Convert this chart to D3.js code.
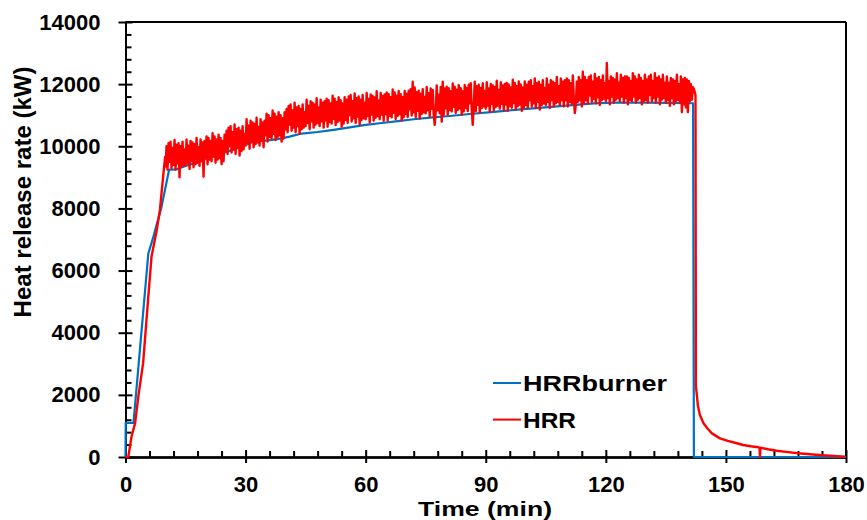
<!DOCTYPE html>
<html>
<head>
<meta charset="utf-8">
<script src="https://cdn.jsdelivr.net/npm/d3@7"></script>
<style>
  body { margin: 0; background: #fff; }
  svg text { font-family: "Liberation Sans", Arial, sans-serif; font-weight: bold; fill: #000; }
</style>
</head>
<body>
<div id="canvas"></div>
<script>
"use strict";

/* === Data === */
// HRRburner: [time (min), kW]
let burnerTime = [0, 0.05, 2.0, 5.7, 7.0, 9.0, 10.9, 12.8, 15, 17, 20, 24, 27, 29, 32, 36, 38, 41, 44, 48, 52, 56, 60, 64, 68.6, 72, 76, 81, 86, 92, 98, 104.8, 110, 117, 122, 130, 136, 141.8, 142.0, 180];
let burnerHRR = [0, 1100, 1100, 6550, 7100, 8050, 9250, 9260, 9370, 9450, 9600, 9770, 9900, 9990, 10150, 10200, 10230, 10310, 10410, 10460, 10530, 10610, 10690, 10750, 10820, 10870, 10920, 10975, 11040, 11110, 11180, 11255, 11310, 11380, 11405, 11405, 11400, 11385, 0, 0];

// HRR growth phase
let riseTime = [0, 0.7, 1.5, 2.4, 3.2, 4.4, 5.7, 6.5, 7.8, 8.6, 9.4, 9.9];
let riseHRR = [0, 0, 650, 1090, 1940, 3020, 5160, 6450, 7300, 7950, 9020, 9660];

// HRR fluctuating phase, read every 0.25 min from t = 10 to 141.75 (one row = 5 min)
let bandStart = 10;
let bandStep = 0.25;
let bandHRR = [
  9350, 10000, 9250, 10100, 9500, 10150, 9300, 9950, 9400, 10200, 9250, 10050, 9450, 10100, 9000, 10000, 9350, 10150, 9400, 9900,
  9370, 10220, 9470, 10020, 9270, 10170, 9520, 10120, 9320, 10070, 9420, 10270, 9470, 9970, 9370, 10220, 9520, 10120, 9020, 10170,
  9620, 10320, 9420, 10270, 9570, 10170, 9520, 10420, 9670, 10320, 9470, 10220, 9570, 10370, 9620, 10270, 9420, 10170, 9520, 10370,
  9850, 10500, 9750, 10600, 10000, 10650, 9800, 10450, 9900, 10700, 9750, 10550, 9950, 10600, 9700, 10500, 9850, 10650, 9900, 10400,
  10020, 10870, 10120, 10670, 9920, 10820, 10170, 10770, 9970, 10720, 10070, 10920, 10120, 10620, 10020, 10870, 10170, 10770, 9970, 10820,
  10350, 11050, 10150, 11000, 10300, 10900, 10250, 11150, 10400, 11050, 10200, 10950, 10300, 11100, 10350, 11000, 10150, 10900, 10250, 11100,
  10550, 11200, 10450, 11300, 10700, 11350, 10500, 11150, 10600, 11400, 10450, 11250, 10650, 11300, 10400, 11200, 10550, 11350, 10600, 11100,
  10650, 11500, 10750, 11300, 10550, 11450, 10800, 11400, 10600, 11350, 10700, 11550, 10750, 11250, 10650, 11500, 10800, 11400, 10600, 11450,
  10830, 11530, 10630, 11480, 10780, 11380, 10730, 11630, 10880, 11530, 10680, 11430, 10780, 11580, 10830, 11480, 10630, 11380, 10730, 11580,
  10850, 11500, 10750, 11600, 11000, 11650, 10800, 11450, 10900, 11700, 10750, 11550, 10950, 11600, 10700, 11500, 10850, 11650, 10900, 11400,
  10870, 11720, 10970, 11520, 10770, 11670, 11020, 11620, 10820, 11570, 10920, 11770, 10970, 11470, 10870, 11720, 11020, 11620, 10820, 11670,
  11030, 11730, 10830, 11680, 10980, 11580, 10930, 11830, 11080, 11730, 10880, 11630, 10980, 11780, 11030, 11680, 10830, 11580, 10930, 11780,
  11040, 11690, 10940, 11790, 11190, 11840, 10990, 12080, 11090, 11890, 10940, 11740, 11140, 11790, 10890, 11690, 11040, 11840, 11090, 11590,
  11060, 11910, 11160, 11710, 10960, 11860, 11210, 11810, 11010, 10690, 11110, 11960, 11160, 11660, 11060, 11910, 10790, 12080, 11010, 11860,
  11220, 11920, 11020, 11870, 11170, 11770, 11120, 12020, 11270, 11920, 11070, 11820, 11170, 11970, 11220, 11870, 11020, 11770, 11120, 11970,
  11230, 11880, 11130, 11980, 11380, 12030, 11180, 10690, 11280, 12080, 11130, 11930, 11330, 11980, 11080, 11880, 11230, 12030, 11280, 11780,
  11210, 12060, 11310, 11860, 11110, 12010, 11360, 11960, 11160, 11910, 11260, 12110, 11310, 11810, 11210, 12060, 11360, 11960, 11160, 12010,
  11340, 12040, 11140, 11990, 11290, 11890, 11240, 12140, 11390, 12040, 11190, 11940, 11290, 12090, 11340, 11990, 11140, 11890, 11240, 12090,
  11330, 11980, 11230, 12080, 11480, 12130, 11280, 11930, 11380, 12180, 11230, 12030, 11430, 12080, 11180, 11980, 11330, 12130, 11380, 11880,
  11330, 12180, 11430, 11980, 11230, 12130, 11480, 12080, 11280, 12030, 11380, 12230, 11430, 11930, 11330, 12180, 11480, 12080, 11280, 12130,
  11480, 12180, 11280, 12130, 11430, 12030, 11380, 12280, 11530, 11070, 11330, 12080, 11430, 12230, 11480, 12130, 11280, 12400, 11380, 12230,
  11480, 12130, 11380, 12230, 11630, 12280, 11430, 12080, 11530, 12330, 11380, 12180, 11580, 12230, 11330, 12130, 11480, 12280, 11530, 12030,
  11450, 12680, 11550, 12100, 11350, 12250, 11600, 12200, 11400, 12150, 11500, 12350, 11550, 12050, 11450, 12300, 11600, 12200, 11400, 12250,
  11550, 12250, 11350, 12200, 11500, 12100, 11450, 12350, 11600, 12250, 11400, 12150, 11500, 12300, 11550, 12200, 11350, 12100, 11450, 12300,
  11500, 12150, 11400, 12250, 11650, 12300, 11450, 12100, 11550, 12350, 11400, 12200, 11600, 12250, 11350, 12150, 11500, 12300, 11550, 12050,
  11400, 12250, 11500, 12050, 11300, 12200, 11550, 12150, 11350, 12100, 11450, 12300, 11500, 12000, 11400, 12250, 11100, 12150, 11350, 12200,
  11250, 12150, 11100, 12100, 11450, 12000, 11500, 11900
];

// HRR decay phase after burner stop
let decayTime = [142.0, 142.4, 142.5, 143.0, 143.5, 144.4, 145.5, 146.5, 148.5, 150.5, 152.5, 154.3, 156.2, 158.1, 158.4, 158.5, 158.6, 160.5, 162.7, 165, 168, 171, 174, 177, 179.8];
let decayHRR = [11850, 11650, 2300, 1650, 1350, 1085, 900, 760, 600, 520, 450, 386, 345, 312, 300, 0, 300, 250, 203, 165, 120, 87, 55, 30, 10];

let xMajor = [0, 30, 60, 90, 120, 150, 180];
let xMinor = [6, 12, 18, 24, 36, 42, 48, 54, 66, 72, 78, 84, 96, 102, 108, 114, 126, 132, 138, 144, 156, 162, 168, 174];
let yMajor = [0, 2000, 4000, 6000, 8000, 10000, 12000, 14000];

let seriesNames = ["HRRburner", "HRR"];
let seriesColors = ["#0070C0", "#FF0000"];

/* === Build series === */
let burnerData = burnerTime.map((t, i) => ({ t: t, v: burnerHRR[i] }));
let hrrData = riseTime.map((t, i) => ({ t: t, v: riseHRR[i] }))
  .concat(bandHRR.map((v, i) => ({ t: bandStart + i * bandStep, v: v })))
  .concat(decayTime.map((t, i) => ({ t: t, v: decayHRR[i] })));

/* === Layout === */
let svgWidth = 867;
let svgHeight = 520;
let plot = { left: 125.5, right: 846, top: 22, bottom: 457 };

let xScale = d3.scaleLinear().domain([0, 180]).range([plot.left, plot.right]);
let yScale = d3.scaleLinear().domain([0, 14000]).range([plot.bottom, plot.top]);

let yMinor = d3.range(400, 14000, 400).filter(v => v % 2000 !== 0);

let svg = d3.select("#canvas").append("svg")
  .attr("width", svgWidth)
  .attr("height", svgHeight);

/* === Frame (top and right) === */
svg.append("line")
  .attr("x1", plot.left).attr("x2", plot.right)
  .attr("y1", plot.top).attr("y2", plot.top)
  .attr("stroke", "#000").attr("stroke-width", 2);
svg.append("line")
  .attr("x1", plot.right).attr("x2", plot.right)
  .attr("y1", plot.top).attr("y2", plot.bottom)
  .attr("stroke", "#000").attr("stroke-width", 2);

/* === Axes === */
function styleAxis(g) {
  g.selectAll("path.domain").attr("stroke", "#000").attr("stroke-width", 2);
  g.selectAll(".tick line").attr("stroke", "#000").attr("stroke-width", 2);
}

// x axis: labelled outer ticks, inner halves, inner minor ticks
let xg = svg.append("g")
  .attr("transform", `translate(0, ${plot.bottom})`)
  .call(d3.axisBottom(xScale).tickValues(xMajor).tickSize(6).tickSizeOuter(0).tickPadding(13));
xg.selectAll("text").attr("font-size", "22px").attr("font-family", null);
styleAxis(xg);

let xgIn = svg.append("g")
  .attr("transform", `translate(0, ${plot.bottom})`)
  .call(d3.axisBottom(xScale).tickValues(xMajor).tickSize(-7).tickSizeOuter(0).tickFormat(""));
styleAxis(xgIn);

let xgMinor = svg.append("g")
  .attr("transform", `translate(0, ${plot.bottom})`)
  .call(d3.axisBottom(xScale).tickValues(xMinor).tickSize(-6).tickSizeOuter(0).tickFormat(""));
styleAxis(xgMinor);

// y axis
let yg = svg.append("g")
  .attr("transform", `translate(${plot.left}, 0)`)
  .call(d3.axisLeft(yScale).tickValues(yMajor).tickSize(7).tickSizeOuter(0).tickPadding(18).tickFormat(d3.format("d")));
yg.selectAll("text").attr("font-size", "22px").attr("font-family", null);
styleAxis(yg);

let ygIn = svg.append("g")
  .attr("transform", `translate(${plot.left}, 0)`)
  .call(d3.axisLeft(yScale).tickValues(yMajor).tickSize(-7).tickSizeOuter(0).tickFormat(""));
styleAxis(ygIn);

let ygMinor = svg.append("g")
  .attr("transform", `translate(${plot.left}, 0)`)
  .call(d3.axisLeft(yScale).tickValues(yMinor).tickSize(-6).tickSizeOuter(0).tickFormat(""));
styleAxis(ygMinor);

/* === Lines === */
let line = d3.line()
  .x(d => xScale(d.t))
  .y(d => yScale(d.v));

svg.append("path")
  .datum(burnerData)
  .attr("fill", "none")
  .attr("stroke", seriesColors[0])
  .attr("stroke-width", 2.2)
  .attr("stroke-linejoin", "round")
  .attr("d", line);

svg.append("path")
  .datum(hrrData)
  .attr("fill", "none")
  .attr("stroke", seriesColors[1])
  .attr("stroke-width", 2.4)
  .attr("stroke-linejoin", "round")
  .attr("d", line);

/* === Axis titles === */
svg.append("text")
  .attr("x", 485)
  .attr("y", 516)
  .attr("text-anchor", "middle")
  .attr("font-size", "21px")
  .attr("textLength", 134)
  .attr("lengthAdjust", "spacingAndGlyphs")
  .text("Time (min)");

svg.append("text")
  .attr("transform", "translate(31, 192) rotate(-90)")
  .attr("text-anchor", "middle")
  .attr("font-size", "24px")
  .text("Heat release rate (kW)");

/* === Legend === */
let legendWidths = [144, 53];
let legend = svg.append("g").attr("transform", "translate(493, 383)");
seriesNames.forEach((name, i) => {
  legend.append("line")
    .attr("x1", 0).attr("x2", 28)
    .attr("y1", i * 36.6).attr("y2", i * 36.6)
    .attr("stroke", seriesColors[i])
    .attr("stroke-width", 2);
  legend.append("text")
    .attr("x", 30)
    .attr("y", i * 36.6 + 8)
    .attr("font-size", "22px")
    .attr("textLength", legendWidths[i])
    .attr("lengthAdjust", "spacingAndGlyphs")
    .text(name);
});
</script>
</body>
</html>
